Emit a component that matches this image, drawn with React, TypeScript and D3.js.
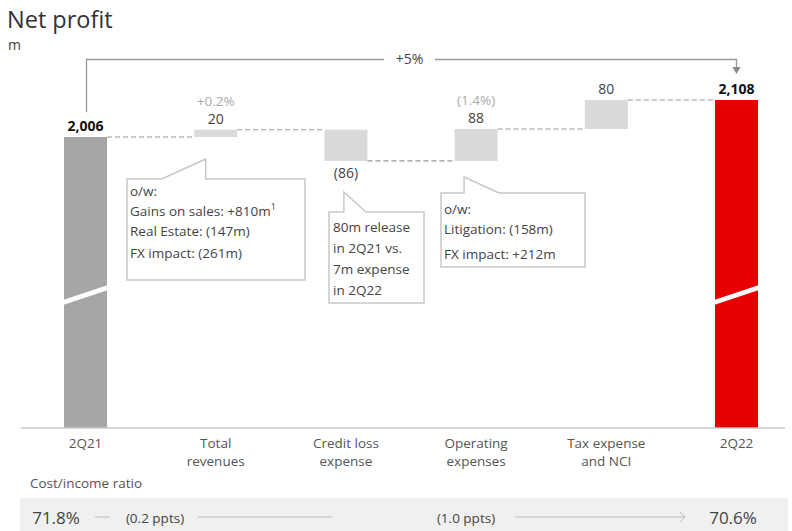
import React from "react";
import * as d3 from "d3";

const categories: string[][] = [
  ["2Q21"],
  ["Total", "revenues"],
  ["Credit loss", "expense"],
  ["Operating", "expenses"],
  ["Tax expense", "and NCI"],
  ["2Q22"],
];
const values = [2006, 20, -86, 88, 80, 2108];
const kinds = ["total", "delta", "delta", "delta", "delta", "total"];
const valueLabels = ["2,006", "20", "(86)", "88", "80", "2,108"];
const pctLabels = ["", "+0.2%", "", "(1.4%)", "", ""];
const totalChange = "+5%";
const ratioTitle = "Cost/income ratio";
const ratioStart = "71.8%";
const ratioEnd = "70.6%";
const ratioSteps = ["(0.2 ppts)", "(1.0 ppts)"];
const note1 = ["o/w:", "Gains on sales: +810m", "Real Estate: (147m)", "FX impact: (261m)"];
const note2 = ["80m release", "in 2Q21 vs.", "7m expense", "in 2Q22"];
const note3 = ["o/w:", "Litigation: (158m)", "FX impact: +212m"];

const FONT = "'Open Sans', 'Noto Sans', sans-serif";
const W = 792;
const H = 531;

export default function App() {
  const x = d3.scalePoint<number>().domain(d3.range(values.length)).range([85.5, 736.5]);
  const y = d3.scaleLinear().domain([2006, 2108]).range([137, 100]);
  const baseY = 428;
  const bw = 43;

  let run = 0;
  const bars = values.map((v, i) => {
    let y0: number, y1: number;
    if (kinds[i] === "total") {
      run = v;
      y0 = y(v);
      y1 = baseY;
    } else {
      const a = run;
      run = run + v;
      y0 = y(Math.max(a, run));
      y1 = y(Math.min(a, run));
    }
    return { i, v, y0, y1, end: run };
  });

  const colorFor = (i: number) =>
    i === 0 ? "#a6a6a6" : i === values.length - 1 ? "#e60000" : "#d9d9d9";

  const callout = (
    bx: number, by: number, bwd: number, bh: number,
    p1: number, p2: number, tip: [number, number]
  ) => {
    const path = d3.path();
    path.moveTo(bx, by);
    path.lineTo(p1, by);
    path.lineTo(tip[0], tip[1]);
    path.lineTo(p2, by);
    path.lineTo(bx + bwd, by);
    path.lineTo(bx + bwd, by + bh);
    path.lineTo(bx, by + bh);
    path.closePath();
    return path.toString();
  };

  const cx = (i: number) => x(i) as number;
  const lastI = values.length - 1;

  return (
    <svg
      width={W}
      height={H}
      style={{ position: "absolute", left: 0, top: 0, background: "#fff" }}
      fontFamily={FONT}
    >
      <text x={7} y={28} fontSize={23.5} fill="#333">Net profit</text>
      <text x={8} y={50} fontSize={14} fill="#444">m</text>

      {/* bracket */}
      <path
        d={`M${cx(0) + 1},112 V59.5 H384 M435,59.5 H${cx(lastI)} V68`}
        fill="none"
        stroke="#999"
        strokeWidth={1.3}
      />
      <path
        d={`M${cx(lastI) - 4},67 L${cx(lastI) + 4},67 L${cx(lastI)},74 Z`}
        fill="#888"
      />
      <text x={409.5} y={60} fontSize={14} fill="#444" textAnchor="middle" dominantBaseline="middle">
        {totalChange}
      </text>

      {/* connectors */}
      {bars.slice(0, -1).map((b, i) => (
        <line
          key={"c" + i}
          x1={cx(i) + bw / 2}
          x2={cx(i + 1) - bw / 2}
          y1={y(b.end)}
          y2={y(b.end)}
          stroke="#999"
          strokeWidth={1.2}
          strokeDasharray="5,3"
        />
      ))}

      {/* bars */}
      {bars.map((b) => (
        <rect
          key={"b" + b.i}
          x={cx(b.i) - bw / 2}
          y={b.y0}
          width={bw}
          height={b.y1 - b.y0}
          fill={colorFor(b.i)}
        />
      ))}

      {/* break marks on totals */}
      {[0, lastI].map((i) => (
        <path
          key={"br" + i}
          d={`M${cx(i) - bw / 2 - 1},${300} L${cx(i) + bw / 2 + 1},${285} L${cx(i) + bw / 2 + 1},${290} L${cx(i) - bw / 2 - 1},${305} Z`}
          fill="#fff"
        />
      ))}

      {/* value labels */}
      {bars.map((b) => {
        const isTotal = kinds[b.i] === "total";
        const neg = b.v < 0;
        const ly = neg ? b.y1 + 17 : b.y0 - 6;
        return (
          <g key={"l" + b.i}>
            <text
              x={cx(b.i)}
              y={ly}
              fontSize={14}
              textAnchor="middle"
              fontWeight={isTotal ? 700 : 400}
              fill={isTotal ? "#111" : "#444"}
            >
              {valueLabels[b.i]}
            </text>
            {pctLabels[b.i] && (
              <text x={cx(b.i)} y={b.y0 - 24} fontSize={13.5} textAnchor="middle" fill="#aaa">
                {pctLabels[b.i]}
              </text>
            )}
          </g>
        );
      })}

      {/* axis */}
      <line x1={21} x2={785} y1={baseY} y2={baseY} stroke="#c8c8c8" strokeWidth={1.5} />
      {categories.map((c, i) => (
        <text key={"cat" + i} x={cx(i)} y={448} fontSize={13.5} textAnchor="middle" fill="#555">
          {c.map((t, j) => (
            <tspan key={j} x={cx(i)} dy={j === 0 ? 0 : 18}>
              {t}
            </tspan>
          ))}
        </text>
      ))}

      {/* callouts */}
      <path d={callout(127, 179, 178, 101, cx(1) - 54, cx(1) - 10, [cx(1) - 10, 159])} fill="#fff" stroke="#c8c8c8" strokeWidth={1.5} />
      <g fontSize={13.5} fill="#444">
        <text x={130} y={196}>{note1[0]}</text>
        <text x={130} y={216}>
          {note1[1]}
          <tspan fontSize={9} dy={-6}>1</tspan>
        </text>
        <text x={130} y={236}>{note1[2]}</text>
        <text x={130} y={258}>{note1[3]}</text>
      </g>

      <path d={callout(329, 212, 95, 91, cx(2) - 2, cx(2) + 20, [cx(2) - 2, 192])} fill="#fff" stroke="#c8c8c8" strokeWidth={1.5} />
      <g fontSize={13.5} fill="#444">
        {note2.map((t, j) => (
          <text key={j} x={333} y={232 + j * 21}>{t}</text>
        ))}
      </g>

      <path d={callout(441, 193, 144, 74, cx(3) - 12, cx(3) + 23, [cx(3) - 12, 177])} fill="#fff" stroke="#c8c8c8" strokeWidth={1.5} />
      <g fontSize={13.5} fill="#444">
        <text x={444} y={214}>{note3[0]}</text>
        <text x={444} y={234}>{note3[1]}</text>
        <text x={444} y={259}>{note3[2]}</text>
      </g>

      {/* ratio row */}
      <text x={30} y={488} fontSize={13.5} fill="#555">{ratioTitle}</text>
      <rect x={20} y={498} width={768} height={40} fill="#f0f0f0" />
      <text x={56} y={524} fontSize={17} textAnchor="middle" fill="#444">{ratioStart}</text>
      <line x1={95} x2={110} y1={517} y2={517} stroke="#bbb" strokeWidth={1} />
      <text x={155} y={523} fontSize={13.5} textAnchor="middle" fill="#444">{ratioSteps[0]}</text>
      <line x1={198} x2={332} y1={517} y2={517} stroke="#bbb" strokeWidth={1} />
      <text x={466} y={523} fontSize={13.5} textAnchor="middle" fill="#444">{ratioSteps[1]}</text>
      <line x1={515} x2={684} y1={517} y2={517} stroke="#bbb" strokeWidth={1} />
      <path d="M680,512 L685,517 L680,522" fill="none" stroke="#bbb" strokeWidth={1} />
      <text x={733} y={524} fontSize={17} textAnchor="middle" fill="#444">{ratioEnd}</text>
    </svg>
  );
}
